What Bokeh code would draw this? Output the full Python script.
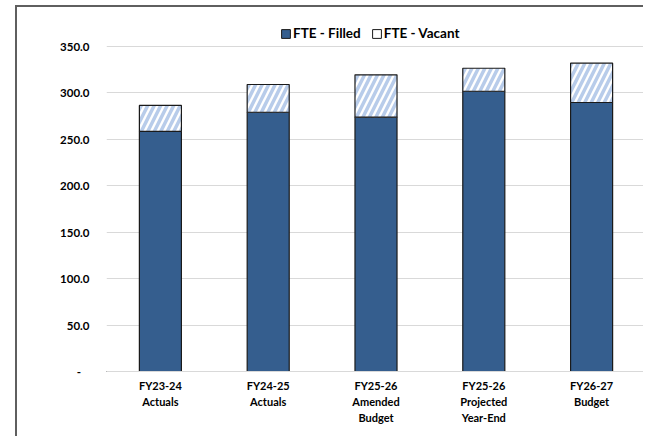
from bokeh.plotting import figure
from bokeh.models import Range1d, FixedTicker, Legend, LegendItem, ColumnDataSource
from bokeh.embed import file_html
from bokeh.resources import INLINE

categories = ["FY23-24\nActuals", "FY24-25\nActuals", "FY25-26\nAmended\nBudget",
              "FY25-26\nProjected\nYear-End", "FY26-27\nBudget"]
filled = [258.5, 279.2, 273.9, 301.8, 289.7]
vacant = [28.0, 29.9, 45.6, 24.8, 42.3]
y_ticks = [0, 50, 100, 150, 200, 250, 300, 350]

xs = [i + 0.5 for i in range(len(categories))]
totals = [f + v for f, v in zip(filled, vacant)]
src = ColumnDataSource(dict(x=xs, filled=filled, total=totals))

FONT = "Lato"

p = figure(width=628, height=431, output_backend="svg", toolbar_location=None,
           x_range=Range1d(0, 5.0), y_range=Range1d(0, 392.0),
           min_border_left=89, min_border_right=0, min_border_top=0, min_border_bottom=67)
# chart-area border: only its left and top edges fall inside the picture
p.styles = {"border-left": "2px solid #5F5F5F", "border-top": "2px solid #5F5F5F",
            "margin-left": "15px", "margin-top": "5px"}
p.outline_line_color = None
p.background_fill_color = "white"
p.border_fill_color = "white"

p.vbar(x="x", top="filled", bottom=0, width=0.39, source=src,
       fill_color="#355E8E", line_color="#1a1a1a", line_width=1.2)
p.vbar(x="x", top="total", bottom="filled", width=0.39, source=src,
       fill_color="white", line_color="#1a1a1a", line_width=1.2,
       hatch_pattern="/", hatch_color="#B8CCEA", hatch_weight=3.5, hatch_scale=13)

# axes
p.yaxis.ticker = FixedTicker(ticks=y_ticks)
p.yaxis.major_label_overrides = {t: (f"{t:.1f}" if t else "-   ") for t in y_ticks}
p.yaxis.axis_line_color = None
p.yaxis.major_tick_line_color = None
p.yaxis.minor_tick_line_color = None
p.yaxis.major_tick_out = 0
p.yaxis.major_tick_in = 0
p.yaxis.major_label_standoff = 17
p.yaxis.major_label_text_font = FONT
p.yaxis.major_label_text_font_style = "bold"
p.yaxis.major_label_text_font_size = "11.5px"
p.yaxis.major_label_text_color = "black"

p.xaxis.ticker = FixedTicker(ticks=xs)
p.xaxis.major_label_overrides = {x: c for x, c in zip(xs, categories)}
p.xaxis.axis_line_color = "#D9D9D9"
p.xaxis.axis_line_width = 1
p.xaxis.major_tick_line_color = None
p.xaxis.minor_tick_line_color = None
p.xaxis.major_tick_out = 0
p.xaxis.major_tick_in = 0
p.xaxis.major_label_standoff = 7
p.xaxis.major_label_text_font = FONT
p.xaxis.major_label_text_font_style = "bold"
p.xaxis.major_label_text_font_size = "11px"
p.xaxis.major_label_text_color = "black"
p.xaxis.major_label_text_line_height = 1.25

p.xgrid.grid_line_color = None
p.ygrid.ticker = FixedTicker(ticks=y_ticks)
p.ygrid.grid_line_color = "#D9D9D9"
p.ygrid.grid_line_width = 1

# legend with plain square icons; the legend-only bars lie outside the visible range
r1 = p.vbar(x=[-10], top=[-5], bottom=[-10], width=0.4,
            fill_color="#355E8E", line_color="#1a1a1a", line_width=1)
r2 = p.vbar(x=[-10], top=[-5], bottom=[-10], width=0.4,
            fill_color="white", line_color="#1a1a1a", line_width=1)
legend = Legend(items=[LegendItem(label="FTE - Filled", renderers=[r1]),
                       LegendItem(label="FTE - Vacant", renderers=[r2])],
                orientation="horizontal", location=(174, 330),
                glyph_width=11, glyph_height=11, label_height=14,
                label_text_font=FONT, label_text_font_style="bold",
                label_text_font_size="13.5px", label_text_color="black",
                label_standoff=2, spacing=10,
                padding=2, margin=0, border_line_color=None,
                background_fill_alpha=0)
p.add_layout(legend)

open("out.html", "w").write(file_html(p, INLINE))
